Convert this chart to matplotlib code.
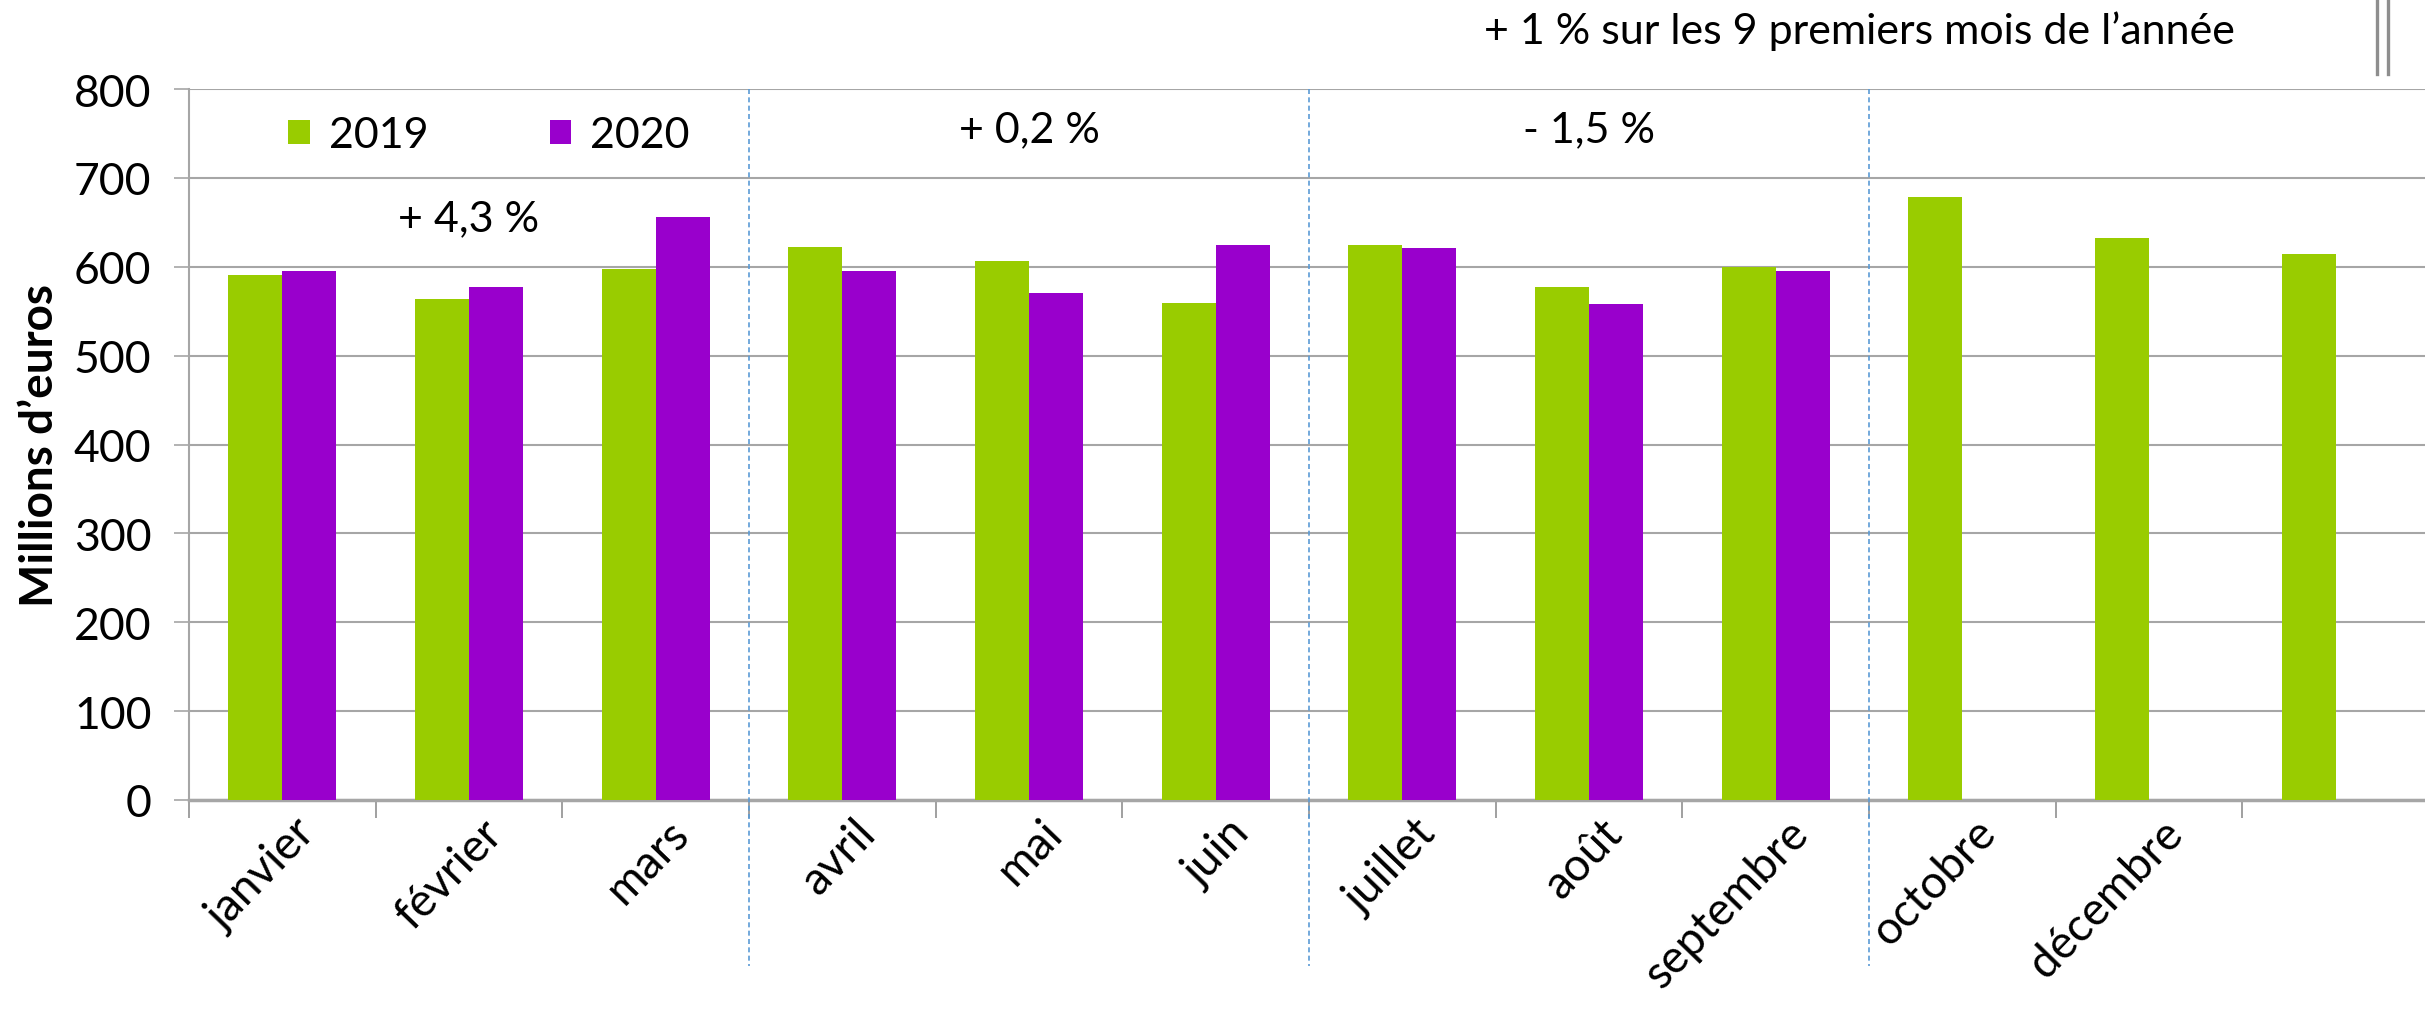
import matplotlib.pyplot as plt
from matplotlib.lines import Line2D
import numpy as np

plt.rcParams['font.family'] = ['Lato', 'DejaVu Sans']
plt.rcParams['font.size'] = 30

# Monthly values in millions of euros
months = ['janvier', 'février', 'mars', 'avril', 'mai', 'juin',
          'juillet', 'août', 'septembre', 'octobre', 'novembre', 'décembre']
tick_names = ['janvier', 'février', 'mars', 'avril', 'mai', 'juin',
              'juillet', 'août', 'septembre', 'octobre', 'décembre', '']
values_2019 = [591, 564, 597, 622, 607, 559, 624, 577, 600, 679, 632, 614]
values_2020 = [595, 577, 656, 595, 571, 624, 621, 558, 595]

quarter_notes = ['+ 4,3 %', '+ 0,2 %', '- 1,5 %']
summary_note = '+ 1 % sur les 9 premiers mois de l\u2019année'

GREEN = '#99CC00'
PURPLE = '#9900CC'
GRID = '#A6A6A6'


def main():
    fig = plt.figure(figsize=(24.25, 10.12), dpi=100)
    ax = fig.add_axes([189 / 2425, 0.2085, 2240 / 2425, 0.911 - 0.2085])

    x = np.arange(len(months))
    w = 0.29
    ax.bar(x - w / 2, values_2019, width=w, color=GREEN, label='2019', zorder=3)
    ax.bar(x[:len(values_2020)] + w / 2, values_2020, width=w, color=PURPLE,
           label='2020', zorder=3)

    ax.set_xlim(-0.5, len(months) - 0.5)
    ax.set_ylim(0, 800)
    ax.set_yticks(np.arange(0, 801, 100))
    ax.yaxis.grid(True, color=GRID, lw=1.5, zorder=0)
    ax.set_axisbelow(True)

    for side in ['top', 'right']:
        ax.spines[side].set_visible(False)
    ax.spines['left'].set_color(GRID)
    ax.spines['left'].set_linewidth(1.5)
    ax.spines['bottom'].set_color(GRID)
    ax.spines['bottom'].set_linewidth(2.5)

    # ticks on category boundaries, labels on centres
    ax.set_xticks(np.arange(len(months)) - 0.5)
    ax.set_xticklabels([])
    ax.set_xticks(x + 0.06, minor=True)
    ax.set_xticklabels(tick_names, minor=True, rotation=46, ha='right',
                       rotation_mode='anchor', fontsize=33)
    ax.tick_params(axis='x', which='major', length=13, width=1.2, color='#909090')
    ax.tick_params(axis='x', which='minor', length=0, pad=8)
    ax.tick_params(axis='y', length=11, width=1.2, color=GRID, pad=16,
                   labelsize=32)

    ax.set_ylabel('Millions d\u2019euros', fontsize=33, fontweight='bold')
    ax.yaxis.set_label_coords(-0.057, 0.5)

    # quarter separators
    trans = ax.get_xaxis_transform()
    for xs in [2.5, 5.5, 8.5]:
        ax.plot([xs, xs], [1.0, -0.233], transform=trans, clip_on=False,
                color='#5B9BD5', lw=1.2, ls=(0, (3, 2)), zorder=4)

    for xc, yc, txt in zip([1.0, 4.0, 7.0], [655, 755, 755], quarter_notes):
        ax.text(xc, yc, txt, ha='center', va='center', fontsize=31)
    ax.text(8.45, 866, summary_note, ha='center', va='center', fontsize=31,
            clip_on=False)

    ax.legend(loc='center', bbox_to_anchor=(0.134, 0.935), ncol=2,
              frameon=False, handlelength=0.5, handleheight=0.5,
              handletextpad=0.45, columnspacing=2.8, fontsize=31)

    # little grey marks in the top right corner of the original image
    for fx in [2377 / 2425, 2388 / 2425]:
        fig.add_artist(Line2D([fx, fx], [1.0, 0.926], color='#7A7A7A',
                              lw=2.4, alpha=0.85))

    fig.savefig('out.png', dpi=100)


if __name__ == '__main__':
    main()
